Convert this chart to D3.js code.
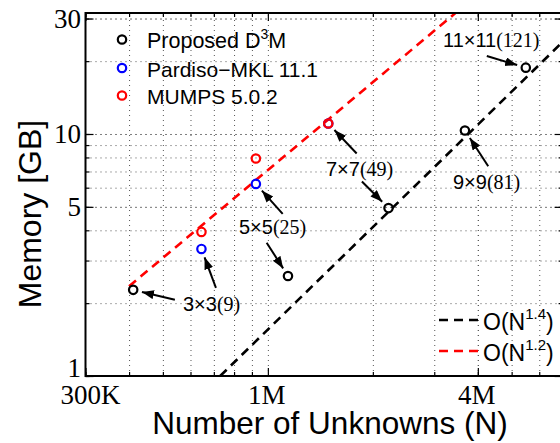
<!DOCTYPE html>
<html><head><meta charset="utf-8">
<script src="https://cdn.jsdelivr.net/npm/d3@7"></script>
<style>body{margin:0;background:#fff}svg{display:block}</style>
</head><body><svg id="c" width="560" height="443"></svg>
<script>
// ---------- data ----------
const xTicks = [3e5, 1e6, 4e6];
const xTickLabels = ["300K", "1M", "4M"];
const yTicks = [1, 5, 10, 30];
const yTickLabels = ["1", "5", "10", "30"];
const xDomain = [3e5, 7e6];
const yDomain = [1, 31.62];

const proposedN   = [4.11e5, 1.142e6, 2.218e6, 3.673e6, 5.49e6];
const proposedMem = [2.27, 2.59, 4.94, 10.34, 18.8];
const pardisoN    = [6.45e5, 9.24e5, 1.49e6];
const pardisoMem  = [3.35, 6.22, 11.05];
const mumpsN      = [6.45e5, 9.24e5, 1.49e6];
const mumpsMem    = [3.94, 7.92, 11.05];

const fit14N   = [7.3e5, 7.0e6];
const fit14Mem = [1.0, 24.0];
const fit12N   = [4.0e5, 3.45e6];
const fit12Mem = [2.35, 31.6];

const annSans  = ["3×3", "5×5", "7×7", "9×9", "11×11"];
const annSerif = ["(9)", "(25)", "(49)", "(81)", "(121)"];
// ---------- layout / style ----------
const L = 85.5, R = 562.6, T = 13, B = 376;
const sans = "'Liberation Sans', Arial, Helvetica, sans-serif";
const serif = "'Liberation Serif', 'Times New Roman', serif";
const colors = {proposed: "#000", pardiso: "#0000ff", mumps: "#ff0000"};

const svg = d3.select("#c");
const x = d3.scaleLog().domain(xDomain).range([L, R]);
const y = d3.scaleLog().domain(yDomain).range([B, T]);

svg.append("defs").append("clipPath").attr("id", "clip")
  .append("rect").attr("x", L).attr("y", T).attr("width", R - L).attr("height", B - T);
const mk = svg.select("defs").append("marker").attr("id", "ah")
  .attr("markerUnits", "userSpaceOnUse").attr("markerWidth", 14).attr("markerHeight", 10)
  .attr("refX", 12).attr("refY", 4.5).attr("orient", "auto");
mk.append("path").attr("d", "M0,0 L12,4.5 L0,9 Z").attr("fill", "#000");

// minor tick values
const xMinor = [];
[1e5, 1e6].forEach(d => { for (let k = 2; k <= 9; k++) { const v = k * d; if (v >= xDomain[0] && v <= xDomain[1]) xMinor.push(v); } });
const yMinor = [];
[1, 10].forEach(d => { for (let k = 1; k <= 9; k++) { const v = k * d; if (v >= yDomain[0] && v <= yDomain[1]) yMinor.push(v); } });

// grid (dotted)
const grid = svg.append("g");
const gx = d3.axisBottom(x).tickValues(xMinor.concat(xTicks).filter(v => v > xDomain[0] && v < xDomain[1]))
  .tickSize(-(B - T)).tickFormat("");
grid.append("g").attr("transform", `translate(0,${B})`).call(gx);
const gy = d3.axisLeft(y).tickValues(yMinor.concat(yTicks).filter(v => v > yDomain[0] && v < yDomain[1]))
  .tickSize(-(R - L)).tickFormat("");
grid.append("g").attr("transform", `translate(${L},0)`).call(gy);
grid.selectAll(".domain").remove();
grid.selectAll("line").attr("stroke", "#555").attr("stroke-width", 1).attr("stroke-dasharray", "1,4");

// fit lines
const line = d3.line().x(d => x(d[0])).y(d => y(d[1]));
const plot = svg.append("g").attr("clip-path", "url(#clip)");
plot.append("path").datum(fit14N.map((n, i) => [n, fit14Mem[i]])).attr("d", line)
  .attr("fill", "none").attr("stroke", "#000").attr("stroke-width", 2.6).attr("stroke-dasharray", "9,6");
plot.append("path").datum(fit12N.map((n, i) => [n, fit12Mem[i]])).attr("d", line)
  .attr("fill", "none").attr("stroke", "#ff0000").attr("stroke-width", 2.6).attr("stroke-dasharray", "9,6");

// markers
function drawPts(ns, ms, col) {
  plot.selectAll(null).data(ns.map((n, i) => [n, ms[i]])).enter().append("circle")
    .attr("cx", d => x(d[0])).attr("cy", d => y(d[1])).attr("r", 4.2)
    .attr("fill", "none").attr("stroke", col).attr("stroke-width", 2.2);
}
drawPts(proposedN, proposedMem, colors.proposed);
drawPts(pardisoN, pardisoMem, colors.pardiso);
drawPts(mumpsN, mumpsMem, colors.mumps);

// axes ticks (inward)
const ax = svg.append("g");
function tickAxis(axisFn, scale, vals, size, tr) {
  ax.append("g").attr("transform", tr).call(axisFn(scale).tickValues(vals).tickSize(size).tickFormat(""));
}
tickAxis(d3.axisBottom, x, xMinor, -4, `translate(0,${B})`);
tickAxis(d3.axisBottom, x, xTicks, -8, `translate(0,${B})`);
tickAxis(d3.axisTop, x, xMinor, -4, `translate(0,${T})`);
tickAxis(d3.axisTop, x, xTicks, -8, `translate(0,${T})`);
tickAxis(d3.axisLeft, y, yMinor, -4, `translate(${L},0)`);
tickAxis(d3.axisLeft, y, yTicks, -8, `translate(${L},0)`);
tickAxis(d3.axisRight, y, yMinor, -4, `translate(${R},0)`);
tickAxis(d3.axisRight, y, yTicks, -8, `translate(${R},0)`);
ax.selectAll(".domain").remove();
ax.selectAll("line").attr("stroke", "#000").attr("stroke-width", 1.2);
svg.append("rect").attr("x", L).attr("y", T).attr("width", R - L).attr("height", B - T)
  .attr("fill", "none").attr("stroke", "#000").attr("stroke-width", 2);

// tick labels
svg.append("g").selectAll("text").data(xTicks).enter().append("text")
  .attr("x", (d, i) => x(d) + (i === 0 ? 5 : -1)).attr("y", 404)
  .attr("text-anchor", "middle").attr("font-family", serif).attr("font-size", 27)
  .text((d, i) => xTickLabels[i]);
svg.append("g").selectAll("text").data(yTicks).enter().append("text")
  .attr("x", 81).attr("y", d => Math.min(Math.max(y(d), 18), 367.5) + 9.5)
  .attr("text-anchor", "end").attr("font-family", serif).attr("font-size", 27)
  .text((d, i) => yTickLabels[i]);

// axis titles
svg.append("text").attr("x", 330).attr("y", 433.5).attr("text-anchor", "middle")
  .attr("font-family", sans).attr("font-size", 31.5).text("Number of Unknowns (N)");
svg.append("text").attr("transform", "translate(41,214) rotate(-90)").attr("text-anchor", "middle")
  .attr("font-family", sans).attr("font-size", 32).text("Memory [GB]");

// legend top-left
const legY = [39.5, 68, 95.5];
const legCols = [colors.proposed, colors.pardiso, colors.mumps];
const lg = svg.append("g");
legY.forEach((yy, i) => {
  lg.append("circle").attr("cx", 122).attr("cy", yy).attr("r", 4.2)
    .attr("fill", "none").attr("stroke", legCols[i]).attr("stroke-width", 2.2);
});
const t0 = lg.append("text").attr("x", 147).attr("y", legY[0] + 8.8).attr("font-family", sans).attr("font-size", 21.5);
t0.append("tspan").text("Proposed D");
t0.append("tspan").attr("font-size", 14).attr("dy", -9).text("3");
t0.append("tspan").attr("dy", 9).text("M");
lg.append("text").attr("x", 147).attr("y", legY[1] + 8.8).attr("font-family", sans).attr("font-size", 21).text("Pardiso−MKL 11.1");
lg.append("text").attr("x", 147).attr("y", legY[2] + 8.8).attr("font-family", sans).attr("font-size", 21).text("MUMPS 5.0.2");

// legend bottom-right
const fitLeg = [{c: "#000", e: "1.4", y: 320}, {c: "#ff0000", e: "1.2", y: 351}];
fitLeg.forEach(f => {
  svg.append("line").attr("x1", 439).attr("x2", 481).attr("y1", f.y).attr("y2", f.y)
    .attr("stroke", f.c).attr("stroke-width", 2.6).attr("stroke-dasharray", "9,6");
  const t = svg.append("text").attr("x", 483).attr("y", f.y + 10).attr("font-family", sans).attr("font-size", 23);
  t.append("tspan").text("O(N");
  t.append("tspan").attr("font-size", 15).attr("dy", -11).text(f.e);
  t.append("tspan").attr("dy", 11).text(")");
});

// annotations
const annLayout = [
  {tx: 183, ty: 311, arrows: [{s: "p", i: 0, dx: 41.7, dy: 10}, {s: "b", i: 0, dx: 14.5, dy: 39}]},
  {tx: 239, ty: 234, arrows: [{s: "b", i: 1, dx: 26.8, dy: 30}, {s: "p", i: 1, dx: -21.3, dy: -33.3}]},
  {tx: 326, ty: 176, arrows: [{s: "r", i: 2, dx: 28.4, dy: 30}, {s: "p", i: 2, dx: -26.6, dy: -26.6}]},
  {tx: 453, ty: 189, arrows: [{s: "p", i: 3, dx: 23.3, dy: 35.7}]},
  {tx: 443, ty: 47, arrows: [{s: "p", i: 4, dx: -39, dy: -11.6}]}
];
const src = {p: [proposedN, proposedMem], b: [pardisoN, pardisoMem], r: [mumpsN, mumpsMem]};
const an = svg.append("g");
annLayout.forEach((a, k) => {
  const t = an.append("text").attr("x", a.tx).attr("y", a.ty).attr("font-size", 20);
  t.append("tspan").attr("font-family", sans).text(annSans[k]);
  t.append("tspan").attr("font-family", serif).text(annSerif[k]);
  a.arrows.forEach(ar => {
    const cx = x(src[ar.s][0][ar.i]), cy = y(src[ar.s][1][ar.i]);
    const len = Math.hypot(ar.dx, ar.dy);
    const ux = ar.dx / len, uy = ar.dy / len;
    an.append("line").attr("x1", cx + ar.dx).attr("y1", cy + ar.dy)
      .attr("x2", cx + ux * 9).attr("y2", cy + uy * 9)
      .attr("stroke", "#000").attr("stroke-width", 2).attr("marker-end", "url(#ah)");
  });
});
</script></body></html>
